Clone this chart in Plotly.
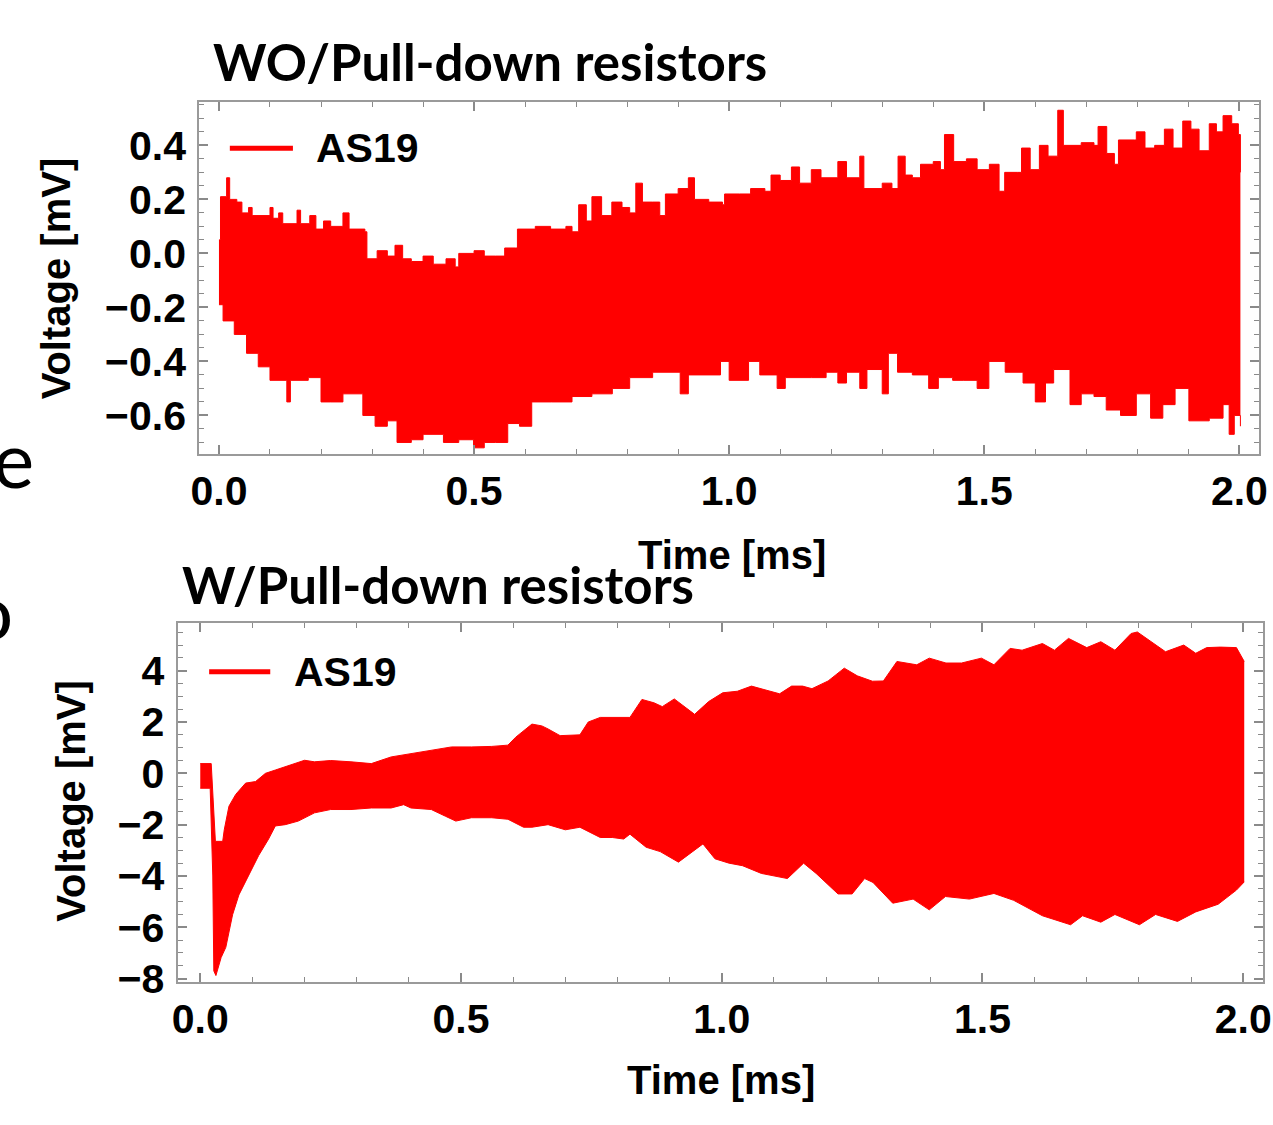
import plotly.graph_objects as go

# ---------------- data ----------------
# Top panel: WO/Pull-down resistors -- envelope of the dense AS19 signal
top_t_upper = [0.000, 0.003, 0.015, 0.021, 0.035, 0.045, 0.058, 0.065, 0.100, 0.106,
               0.117, 0.125, 0.153, 0.160, 0.178, 0.190, 0.205, 0.219, 0.243, 0.255,
               0.286, 0.290, 0.310, 0.330, 0.345, 0.360, 0.377, 0.400, 0.420, 0.445,
               0.463, 0.470, 0.500, 0.520, 0.542, 0.560, 0.581, 0.585, 0.620, 0.650,
               0.680, 0.692, 0.705, 0.720, 0.731, 0.750, 0.770, 0.790, 0.805, 0.817,
               0.830, 0.850, 0.864, 0.875, 0.900, 0.920, 0.932, 0.960, 0.987, 0.991,
               1.020, 1.042, 1.070, 1.082, 1.100, 1.122, 1.138, 1.161, 1.180, 1.213,
               1.230, 1.256, 1.264, 1.300, 1.319, 1.331, 1.345, 1.359, 1.375, 1.400,
               1.414, 1.422, 1.440, 1.465, 1.486, 1.510, 1.529, 1.540, 1.565, 1.573,
               1.590, 1.608, 1.625, 1.644, 1.655, 1.690, 1.715, 1.723, 1.740, 1.755,
               1.763, 1.794, 1.798, 1.815, 1.834, 1.853, 1.870, 1.889, 1.905, 1.921,
               1.941, 1.955, 1.968, 1.985, 1.998, 2.002]
top_v_upper = [0.05, 0.21, 0.28, 0.20, 0.19, 0.15, 0.17, 0.14, 0.17, 0.13,
               0.15, 0.11, 0.16, 0.11, 0.14, 0.09, 0.12, 0.10, 0.15, 0.09,
               0.08, -0.02, 0.01, -0.01, 0.03, -0.02, -0.03, -0.01, -0.04, -0.02,
               -0.05, 0.00, 0.01, -0.01, -0.01, 0.02, 0.02, 0.09, 0.10, 0.09,
               0.10, 0.08, 0.18, 0.12, 0.21, 0.14, 0.19, 0.17, 0.15, 0.26,
               0.19, 0.19, 0.14, 0.22, 0.24, 0.28, 0.20, 0.19, 0.18, 0.22,
               0.22, 0.24, 0.23, 0.29, 0.27, 0.32, 0.26, 0.31, 0.28, 0.34,
               0.28, 0.36, 0.24, 0.26, 0.24, 0.36, 0.29, 0.28, 0.33, 0.34,
               0.31, 0.44, 0.34, 0.35, 0.31, 0.33, 0.23, 0.30, 0.30, 0.39,
               0.31, 0.40, 0.36, 0.53, 0.40, 0.41, 0.40, 0.47, 0.37, 0.33,
               0.42, 0.42, 0.45, 0.39, 0.40, 0.46, 0.39, 0.49, 0.46, 0.38,
               0.48, 0.45, 0.51, 0.48, 0.44, 0.30]

top_t_lower = [0.000, 0.008, 0.030, 0.054, 0.077, 0.100, 0.133, 0.140, 0.175, 0.200,
               0.219, 0.243, 0.282, 0.306, 0.330, 0.349, 0.377, 0.400, 0.440, 0.470,
               0.499, 0.520, 0.542, 0.566, 0.589, 0.613, 0.652, 0.692, 0.731, 0.771,
               0.805, 0.850, 0.904, 0.920, 0.983, 1.000, 1.038, 1.060, 1.094, 1.110,
               1.161, 1.190, 1.213, 1.230, 1.256, 1.270, 1.300, 1.312, 1.330, 1.359,
               1.391, 1.410, 1.438, 1.460, 1.486, 1.509, 1.541, 1.576, 1.600, 1.620,
               1.636, 1.668, 1.690, 1.715, 1.739, 1.767, 1.798, 1.826, 1.850, 1.874,
               1.901, 1.941, 1.968, 1.980, 1.990, 2.002]
top_v_lower = [-0.19, -0.25, -0.30, -0.37, -0.42, -0.47, -0.55, -0.47, -0.46, -0.55,
               -0.55, -0.52, -0.60, -0.64, -0.62, -0.70, -0.69, -0.67, -0.70, -0.69,
               -0.72, -0.70, -0.70, -0.63, -0.64, -0.55, -0.55, -0.53, -0.52, -0.50,
               -0.46, -0.44, -0.52, -0.45, -0.40, -0.47, -0.40, -0.45, -0.50, -0.46,
               -0.46, -0.44, -0.48, -0.44, -0.50, -0.43, -0.52, -0.37, -0.44, -0.45,
               -0.50, -0.46, -0.47, -0.47, -0.50, -0.40, -0.44, -0.48, -0.55, -0.48,
               -0.43, -0.56, -0.52, -0.53, -0.58, -0.60, -0.52, -0.61, -0.56, -0.50,
               -0.62, -0.61, -0.56, -0.67, -0.60, -0.64]

# Bottom panel: W/Pull-down resistors -- envelope of the dense AS19 signal
bot_t_upper = [0.000, 0.021, 0.029, 0.043, 0.046, 0.055, 0.068, 0.087, 0.106, 0.125,
               0.144, 0.175, 0.200, 0.219, 0.250, 0.289, 0.328, 0.366, 0.404, 0.443,
               0.482, 0.520, 0.559, 0.590, 0.605, 0.636, 0.655, 0.667, 0.690, 0.728,
               0.744, 0.767, 0.790, 0.824, 0.847, 0.870, 0.886, 0.909, 0.948, 0.975,
               1.002, 1.030, 1.057, 1.111, 1.134, 1.155, 1.173, 1.204, 1.235, 1.260,
               1.289, 1.310, 1.336, 1.374, 1.398, 1.430, 1.460, 1.498, 1.522, 1.553,
               1.576, 1.615, 1.638, 1.665, 1.700, 1.727, 1.754, 1.785, 1.797, 1.832,
               1.851, 1.886, 1.909, 1.930, 1.956, 1.987, 2.002]
bot_v_upper = [0.38, 0.38, -2.65, -2.65, -2.20, -1.28, -0.82, -0.38, -0.32, 0.00,
               0.13, 0.33, 0.51, 0.45, 0.50, 0.45, 0.38, 0.64, 0.77, 0.90,
               1.03, 1.03, 1.05, 1.10, 1.41, 1.92, 1.85, 1.73, 1.47, 1.50,
               2.00, 2.18, 2.18, 2.18, 2.88, 2.75, 2.60, 2.90, 2.30, 2.80,
               3.14, 3.20, 3.40, 3.10, 3.40, 3.40, 3.30, 3.60, 4.10, 3.80,
               3.59, 3.60, 4.36, 4.23, 4.49, 4.30, 4.30, 4.49, 4.23, 4.87,
               4.80, 5.06, 4.80, 5.26, 4.90, 5.13, 4.80, 5.45, 5.51, 5.00,
               4.74, 5.00, 4.68, 4.90, 4.92, 4.90, 4.36]

bot_t_lower = [0.000, 0.019, 0.024, 0.026, 0.030, 0.036, 0.040, 0.049, 0.055, 0.062,
               0.074, 0.093, 0.112, 0.131, 0.144, 0.163, 0.188, 0.219, 0.250, 0.289,
               0.328, 0.366, 0.390, 0.404, 0.443, 0.470, 0.490, 0.520, 0.559, 0.590,
               0.620, 0.636, 0.667, 0.700, 0.728, 0.767, 0.790, 0.812, 0.824, 0.855,
               0.882, 0.917, 0.964, 0.987, 1.014, 1.040, 1.076, 1.126, 1.157, 1.181,
               1.223, 1.250, 1.274, 1.290, 1.328, 1.367, 1.398, 1.429, 1.475, 1.522,
               1.560, 1.615, 1.669, 1.692, 1.727, 1.754, 1.801, 1.832, 1.874, 1.909,
               1.952, 1.987, 2.002]
bot_v_lower = [-0.58, -0.58, -4.00, -7.70, -7.88, -7.40, -7.18, -6.78, -6.15, -5.51,
               -4.74, -3.97, -3.20, -2.56, -2.05, -2.00, -1.86, -1.54, -1.41, -1.41,
               -1.35, -1.35, -1.22, -1.35, -1.41, -1.67, -1.86, -1.73, -1.73, -1.79,
               -2.10, -2.10, -2.00, -2.20, -2.10, -2.50, -2.50, -2.56, -2.37, -2.88,
               -3.05, -3.46, -2.75, -3.33, -3.50, -3.60, -3.90, -4.10, -3.50, -3.90,
               -4.70, -4.70, -4.10, -4.25, -5.06, -4.90, -5.32, -4.80, -4.90, -4.68,
               -4.95, -5.55, -5.90, -5.55, -5.80, -5.50, -5.90, -5.50, -5.77, -5.40,
               -5.10, -4.55, -4.23]

series_name = "AS19"
titles = ["WO/Pull-down resistors", "W/Pull-down resistors"]
x_label = "Time [ms]"
y_label = "Voltage [mV]"
x_ticks = [0.0, 0.5, 1.0, 1.5, 2.0]

# ---------------- figure ----------------
W, H = 1273, 1125
RED = "#ff0000"
AX_FONT = dict(family="Liberation Sans, Arial, sans-serif", size=41, color="black", weight="bold")
TITLE_FONT = dict(family="Lato, Open Sans, sans-serif", size=51, color="black", weight="bold")

def px(x):
    return x / W

def py(y):
    return 1 - y / H

fig = go.Figure()

# top panel
fig.add_trace(go.Scatter(x=top_t_upper, y=top_v_upper, mode="lines", line=dict(color=RED, width=1, shape="hv"),
                         name=series_name, showlegend=False, xaxis="x", yaxis="y"))
fig.add_trace(go.Scatter(x=top_t_lower, y=top_v_lower, mode="lines", line=dict(color=RED, width=1, shape="hv"),
                         fill="tonexty", fillcolor=RED, name=series_name, showlegend=False, xaxis="x", yaxis="y"))
# bottom panel
fig.add_trace(go.Scatter(x=bot_t_upper, y=bot_v_upper, mode="lines", line=dict(color=RED, width=1),
                         name=series_name, showlegend=False, xaxis="x2", yaxis="y2"))
fig.add_trace(go.Scatter(x=bot_t_lower, y=bot_v_lower, mode="lines", line=dict(color=RED, width=1),
                         fill="tonexty", fillcolor=RED, name=series_name, showlegend=False, xaxis="x2", yaxis="y2"))

common = dict(
    ticks="inside", ticklen=9, tickwidth=1.5, tickcolor="#8a8a8a",
    showline=True, linecolor="#9a9a9a", linewidth=2, mirror="ticks",
    showgrid=False, zeroline=False, tickfont=AX_FONT, ticklabeloverflow="allow",
)
minor_x = dict(dtick=0.1, tick0=0, ticks="inside", ticklen=5, tickcolor="#8a8a8a", tickwidth=1.2)

fig.update_layout(
    width=W, height=H,
    margin=dict(l=0, r=0, t=0, b=0),
    paper_bgcolor="white", plot_bgcolor="white",
    showlegend=False,
    xaxis=dict(domain=[px(193), px(1268)], anchor="y", range=[-0.0386, 2.0386],
               tickvals=x_ticks, tickformat=".1f", ticklabelstandoff=0, minor=minor_x, **common),
    yaxis=dict(domain=[py(462), py(104)], anchor="x", range=[-0.742, 0.56],
               tick0=0, dtick=0.2, tickformat=".1f", ticklabelstandoff=3,
               minor=dict(dtick=0.05, tick0=0, ticks="inside", ticklen=5, tickcolor="#8a8a8a", tickwidth=1.2),
               **common),
    xaxis2=dict(domain=[px(171), px(1272)], anchor="y2", range=[-0.0435, 2.038],
                tickvals=x_ticks, tickformat=".1f", ticklabelstandoff=0, minor=minor_x, **common),
    yaxis2=dict(domain=[py(1000), py(634)], anchor="x2", range=[-8.14, 5.87],
                tick0=0, dtick=2, ticklabelstandoff=3,
                minor=dict(dtick=0.5, tick0=0, ticks="inside", ticklen=5, tickcolor="#8a8a8a", tickwidth=1.2),
                **common),
)

ann = []
# panel titles
ann.append(dict(text=titles[0], x=px(205), y=py(63), xref="paper", yref="paper",
                xanchor="left", yanchor="middle", showarrow=False, font=TITLE_FONT))
ann.append(dict(text=titles[1], x=px(173), y=py(595), xref="paper", yref="paper",
                xanchor="left", yanchor="middle", showarrow=False, font=TITLE_FONT))
# axis titles
LBL_FONT = dict(family="Liberation Sans, Arial, sans-serif", size=40, color="black", weight="bold")
ann.append(dict(text=y_label, x=px(48), y=py(283), xref="paper", yref="paper", textangle=-90,
                xanchor="center", yanchor="middle", showarrow=False, font=LBL_FONT))
ann.append(dict(text=y_label, x=px(62), y=py(815), xref="paper", yref="paper", textangle=-90,
                xanchor="center", yanchor="middle", showarrow=False, font=LBL_FONT))
ann.append(dict(text=x_label, x=px(733), y=py(565), xref="paper", yref="paper",
                xanchor="center", yanchor="middle", showarrow=False, font=LBL_FONT))
ann.append(dict(text=x_label, x=px(722), y=py(1100), xref="paper", yref="paper",
                xanchor="center", yanchor="middle", showarrow=False, font=LBL_FONT))
# legend labels
ann.append(dict(text=series_name, x=px(309), y=py(151), xref="paper", yref="paper",
                xanchor="left", yanchor="middle", showarrow=False, font=AX_FONT))
ann.append(dict(text=series_name, x=px(287), y=py(684), xref="paper", yref="paper",
                xanchor="left", yanchor="middle", showarrow=False, font=AX_FONT))
# stray slide text cut by the left edge of the picture
STRAY_FONT = dict(family="Lato, Open Sans, sans-serif", size=78, color="black")
ann.append(dict(text="e", x=px(27), y=py(466), xref="paper", yref="paper",
                xanchor="right", yanchor="middle", showarrow=False, font=STRAY_FONT))
ann.append(dict(text="o", x=px(6), y=py(621), xref="paper", yref="paper",
                xanchor="right", yanchor="middle", showarrow=False, font=STRAY_FONT))
fig.update_layout(annotations=ann)

# legend line samples
fig.add_shape(type="line", xref="paper", yref="paper", x0=px(224), x1=px(288), y0=py(151), y1=py(151),
              line=dict(color=RED, width=5))
fig.add_shape(type="line", xref="paper", yref="paper", x0=px(203), x1=px(265), y0=py(684), y1=py(684),
              line=dict(color=RED, width=5))

fig.write_html("out.html",
               config={"displayModeBar": False},
               post_script="document.body.style.margin='0';document.body.style.overflow='hidden';")
